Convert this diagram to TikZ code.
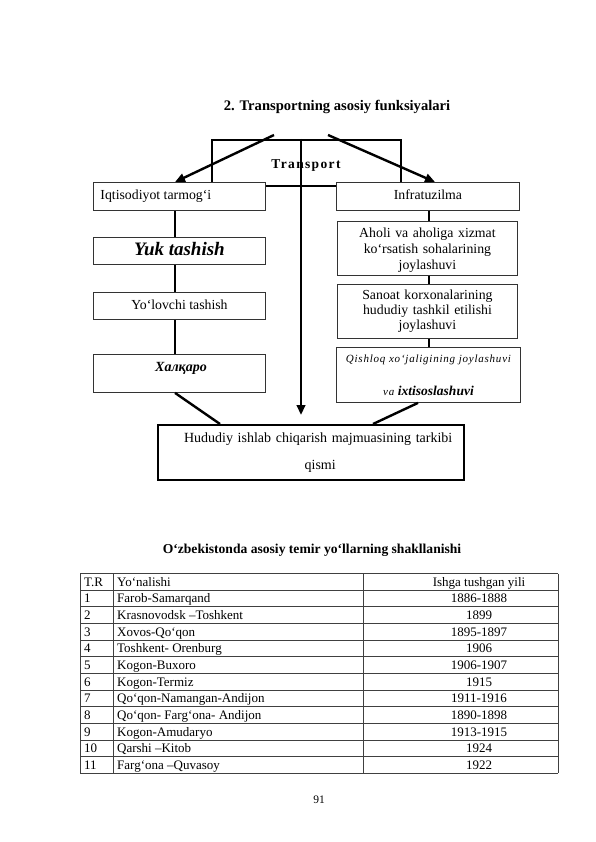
\documentclass[tikz,border=0pt]{standalone}
\usepackage{fontspec}
\setmainfont{Liberation Serif}
\newfontfamily\lsfont[LetterSpace=7]{Liberation Serif}
\newfontfamily\trfont[LetterSpace=10]{Liberation Serif}
\usetikzlibrary{arrows.meta,calc}
\begin{document}
\begin{tikzpicture}[x=1pt,y=-1pt,
  box/.style={draw=black!80, line width=0.9pt, fill=white, inner sep=0pt, anchor=north west,
    align=center, font=\fontsize{13.8}{16}\selectfont},
  oneline/.style={text height=10pt, text depth=3.5pt},
  conn/.style={line width=2.4pt},
  arr/.style={line width=2.4pt, -{Triangle[length=10pt,width=8.5pt]}},
  tline/.style={draw=black!75, line width=0.7pt},
  ttxt/.style={font=\fontsize{13}{14}\selectfont, inner sep=0pt},
  ttl/.style={font=\fontsize{13.6}{15}\selectfont\bfseries, inner sep=0pt}
]
\useasboundingbox (0,0) rectangle (595,842);
\fill[white] (0,0) rectangle (595,842);

% titles
\node[ttl, font=\fontsize{14.6}{16}\selectfont\bfseries] (title1) at (337,107) {2. Transportning asosiy funksiyalari};

% transport frame
\node[draw, line width=2.4pt, minimum width=189pt, minimum height=46pt, inner sep=0pt, anchor=north west] (trbox) at (211,139) {};
\node[inner sep=0pt, font=\fontsize{13.5}{15}\trfont\bfseries] (trtext) at (306,166) {Transport};

% helper x positions
\coordinate (lc) at (175,0);
\coordinate (rc) at (429,0);
\coordinate (cx) at (301,0);
\coordinate (la) at (274,135);
\coordinate (ra) at (328,135);
\coordinate (rt) at (435,0);
\coordinate (x220) at (220,0);
\coordinate (x373) at (373,0);
\coordinate (x418) at (418,0);

% left column
\node[box, oneline, minimum width=172pt, minimum height=28pt] (iqt) at (93,182) {\makebox[158pt][l]{Iqtisodiyot tarmogʻi}};
\node[box, minimum width=172pt, minimum height=27pt, text height=13.5pt, text depth=4.5pt, font=\fontsize{19}{21}\selectfont\bfseries\itshape] (yuk) at (93,237) {Yuk tashish};
\node[box, oneline, minimum width=172pt, minimum height=27pt] (yol) at (93,292) {Yoʻlovchi tashish};
\node[box, minimum width=172pt, minimum height=38pt] (hal) at (93,354) {};
\node[inner sep=0pt, font=\fontsize{14}{15}\selectfont\bfseries\itshape] (halt) at (181,368) {Халқаро};

% right column
\node[box, oneline, minimum width=183pt, minimum height=28pt] (inf) at (336,182) {Infratuzilma};
\node[box, minimum width=180pt, minimum height=54pt, text width=180pt] (aho) at (337,221) {\rule{0pt}{13pt}Aholi va aholiga xizmat\\koʻrsatish sohalarining\\joylashuvi};
\node[box, minimum width=180pt, minimum height=54pt, text width=180pt, font=\fontsize{13.8}{15}\selectfont] (san) at (337,284) {Sanoat korxonalarining\\hududiy tashkil etilishi\\joylashuvi};
\node[box, minimum width=184pt, minimum height=55pt, text width=184pt, font=\fontsize{11}{33}\selectfont] (qis) at (336,347) {{\lsfont\itshape Qishloq xoʻjaligining joylashuvi}\\{\lsfont\itshape va} {\fontsize{13.5}{14}\selectfont\bfseries\itshape ixtisoslashuvi}};

% bottom box
\node[box, draw=black, line width=2.4pt, minimum width=306pt, minimum height=55pt, text width=306pt, font=\fontsize{14}{27}\selectfont] (bot) at (157,424) {\hspace*{14pt}Hududiy ishlab chiqarish majmuasining tarkibi\\\hspace*{18pt}qismi};

% connectors
\draw[arr] (la) -- (iqt.north -| lc);
\draw[arr] (ra) -- (inf.north -| rt);
\draw[arr, shorten >=9pt] (trbox.north -| cx) -- (bot.north -| cx);
\draw[conn] (iqt.south -| lc) -- (yuk.north -| lc);
\draw[conn] (yuk.south -| lc) -- (yol.north -| lc);
\draw[conn] (yol.south -| lc) -- (hal.north -| lc);
\draw[conn] (inf.south -| rc) -- (aho.north -| rc);
\draw[conn] (aho.south -| rc) -- (san.north -| rc);
\draw[conn] (san.south -| rc) -- (qis.north -| rc);
\draw[conn] (hal.south -| lc) -- (bot.north -| x220);
\draw[conn] (qis.south -| x418) -- (bot.north -| x373);

% table title
\node[ttl] (title2) at (312,550) {Oʻzbekistonda asosiy temir yoʻllarning shakllanishi};

% table grid
\foreach \k in {0,...,12} {
  \draw[tline] (80,{573.5+16.64*\k}) -- (558,{573.5+16.64*\k});
}
\draw[tline] (80,573.5) -- (80,773.2);
\draw[tline] (113,573.5) -- (113,773.2);
\draw[tline] (363,573.5) -- (363,773.2);
\draw[tline] (558,573.5) -- (558,773.2);

% table text
\foreach \k/\a/\b/\c in {
  0/T.R/Yoʻnalishi/Ishga tushgan yili,
  1/1/Farob-Samarqand/1886-1888,
  2/2/Krasnovodsk –Toshkent/1899,
  3/3/Xovos-Qoʻqon/1895-1897,
  4/4/Toshkent- Orenburg/1906,
  5/5/Kogon-Buxoro/1906-1907,
  6/6/Kogon-Termiz/1915,
  7/7/Qoʻqon-Namangan-Andijon/1911-1916,
  8/8/Qoʻqon- Fargʻona- Andijon/1890-1898,
  9/9/Kogon-Amudaryo/1913-1915,
  10/10/Qarshi –Kitob/1924,
  11/11/Fargʻona –Quvasoy/1922} {
  \node[ttxt, anchor=base west] (n\k) at (84,{573.5+16.64*\k+12.8}) {\a};
  \node[ttxt, anchor=base west] (d\k) at (117,{573.5+16.64*\k+12.8}) {\b};
  \node[ttxt, anchor=base] (y\k) at (479,{573.5+16.64*\k+12.8}) {\c};
}

\node[inner sep=0pt, font=\fontsize{11.5}{13}\selectfont] (page) at (319,800) {91};
\end{tikzpicture}
\end{document}
